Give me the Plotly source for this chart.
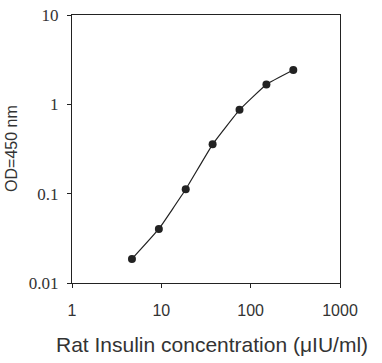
import plotly.graph_objects as go

conc = [4.69, 9.38, 18.75, 37.5, 75, 150, 300]
od = [0.0186, 0.0403, 0.112, 0.357, 0.867, 1.67, 2.42]
x_ticks = [1, 10, 100, 1000]
y_ticks = [0.01, 0.1, 1, 10]
x_title = "Rat Insulin concentration (\u03bcIU/ml)"
y_title = "OD=450 nm"

fig = go.Figure()
fig.add_trace(go.Scatter(
    x=conc, y=od, mode="lines+markers",
    line=dict(color="#222222", width=1.2, shape="spline", smoothing=0.3),
    marker=dict(color="#222222", size=8),
    showlegend=False,
))

fig.update_layout(
    width=382, height=363,
    margin=dict(l=72, r=42, t=15, b=80),
    paper_bgcolor="white", plot_bgcolor="white",
    xaxis=dict(
        type="log", range=[0, 3], automargin=False,
        tickvals=x_ticks, ticktext=[str(v) for v in x_ticks],
        ticks="outside", ticklen=4, tickcolor="#222",
        showline=True, linecolor="#222", linewidth=1, mirror=True,
        showgrid=False, zeroline=False, ticklabelstandoff=9,
        tickfont=dict(family="Liberation Sans, Arial", size=16, color="#333"),
    ),
    yaxis=dict(
        type="log", range=[-2, 1], automargin=False,
        tickvals=y_ticks, ticktext=["0.01", "0.1", "1", "10"],
        ticks="outside", ticklen=4, tickcolor="#222",
        showline=True, linecolor="#222", linewidth=1, mirror=True,
        showgrid=False, zeroline=False, ticklabelstandoff=5,
        tickfont=dict(family="Liberation Serif, Times New Roman", size=17, color="#333"),
    ),
    annotations=[
        dict(text=x_title, xref="paper", yref="paper", x=0.522, y=-0.231,
             xanchor="center", yanchor="middle", showarrow=False,
             font=dict(family="Liberation Sans, Arial", size=21, color="#333")),
        dict(text=y_title, xref="paper", yref="paper", x=-0.224, y=0.504,
             xanchor="center", yanchor="middle", showarrow=False, textangle=-90,
             font=dict(family="Liberation Sans, Arial", size=16, color="#333")),
    ],
)

fig.write_html("out.html", config={"displayModeBar": False},
               post_script="document.body.style.margin='0';document.body.style.overflow='hidden';")
